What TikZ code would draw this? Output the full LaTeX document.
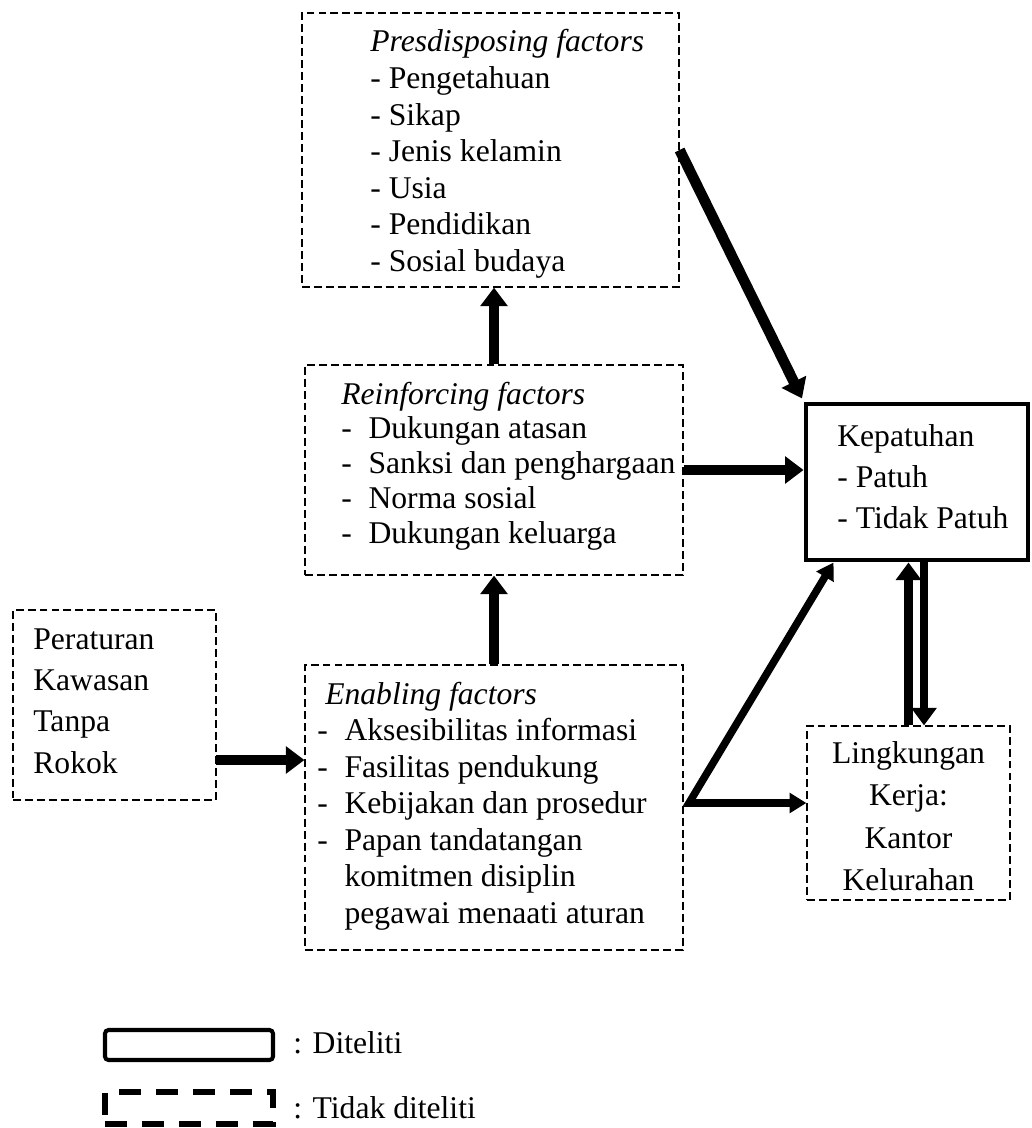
\documentclass[tikz,border=0pt]{standalone}
\usepackage{fontspec}
\setmainfont{Liberation Serif}
\usetikzlibrary{arrows.meta,fit,positioning}
\tikzset{dashbox/.style={draw, line width=0.7pt, dash pattern=on 4.5pt off 2.3pt, inner sep=0pt},
solidbox/.style={draw, line width=2.8pt, inner sep=0pt},
txt/.style={inner sep=0pt, font=\fontsize{18}{20.8}\selectfont},
%thick arrows between the boxes
bigarrow/.style={line width=6pt, -{Triangle[length=10.5pt,width=15pt]}},
splitarrow/.style={line width=4.3pt, line join=miter, {Triangle[length=9.5pt,width=11pt]}-{Triangle[length=9.5pt,width=11pt]}},
pairarrow/.style={line width=5pt, -{Triangle[length=10pt,width=14pt]}}}
\newcommand{\fitem}[1]{\makebox[15.5pt][l]{-}#1}
\newcommand{\fcont}[1]{\hspace*{15.5pt}#1}

\begin{document}
\begin{tikzpicture}[x=0.02cm, y=-0.02cm]
\useasboundingbox (0,0) rectangle (1031,1128);

\node[dashbox, fit={(302,13) (679,287)}] (pres) {};
\node[dashbox, fit={(305,365) (683,575)}] (reinf) {};
\node[dashbox, fit={(305,665) (683,950)}] (enab) {};
\node[dashbox, fit={(13,610) (216,800)}] (per) {};
\node[solidbox, fit={(806,404) (1028,560)}] (kep) {};
\node[dashbox, fit={(807,726) (1010,900)}] (ling) {};

\node[txt, anchor=base west] (presTxt) at (370,52) {\begin{tabular}[t]{@{}l@{}}
\textit{Presdisposing factors}\\- Pengetahuan\\- Sikap\\- Jenis kelamin\\- Usia\\- Pendidikan\\- Sosial budaya
\end{tabular}};
\node[txt, font=\fontsize{18}{19.9}\selectfont, anchor=base west] (reinfTxt) at (341,404) {\begin{tabular}[t]{@{}l@{}}
\textit{Reinforcing factors}\\\fitem{Dukungan atasan}\\\fitem{Sanksi dan penghargaan}\\\fitem{Norma sosial}\\\fitem{Dukungan keluarga}
\end{tabular}};
\node[txt, anchor=base west] (enabTxt) at (317,704) {\begin{tabular}[t]{@{}l@{}}
\hspace*{4.5pt}\textit{Enabling factors}\\\fitem{Aksesibilitas informasi}\\\fitem{Fasilitas pendukung}\\\fitem{Kebijakan dan prosedur}\\\fitem{Papan tandatangan}\\\fcont{komitmen disiplin}\\\fcont{pegawai menaati aturan}
\end{tabular}};
\node[txt, font=\fontsize{18}{23.6}\selectfont, anchor=base west] (perTxt) at (33,649) {\begin{tabular}[t]{@{}l@{}}
Peraturan\\Kawasan\\Tanpa\\Rokok
\end{tabular}};
\node[txt, font=\fontsize{18}{23.5}\selectfont, anchor=base west] (kepTxt) at (837,446) {\begin{tabular}[t]{@{}l@{}}
Kepatuhan\\- Patuh\\- Tidak Patuh
\end{tabular}};
\node[txt, font=\fontsize{18}{24.2}\selectfont, anchor=base] (lingTxt) at (908.5,763) {\begin{tabular}[t]{@{}c@{}}
Lingkungan\\Kerja:\\Kantor\\Kelurahan
\end{tabular}};

\draw[bigarrow, shorten >=2pt] (pres.east) -- (kep.north west);
\draw[bigarrow] (reinf.east) -- (reinf.east -| kep.west);
\draw[bigarrow] (reinf.north) -- (reinf.north |- pres.south);
\draw[bigarrow] (enab.north) -- (enab.north |- reinf.south);
\coordinate (perOut) at (216,760);
\draw[bigarrow] (perOut) -- (perOut -| enab.west);
\coordinate (split) at (689,803);
\draw[splitarrow] ([xshift=0.6cm]kep.south west) -- (split) -- (split -| ling.west);
\draw[pairarrow] (ling.north) -- (ling.north |- kep.south);
\coordinate (kepDown) at ([xshift=0.14cm]kep.south);
\draw[pairarrow] (kepDown) -- (kepDown |- ling.north);

% legend
\node[solidbox, line width=2.3pt, rounded corners=2pt, fit={(105,1030) (273,1060)}] (legA) {};
\node[dashbox, line width=3.4pt, dash pattern=on 12.5pt off 8.5pt, fit={(105,1092) (273,1124)}] (legB) {};
\node[txt, anchor=base west] (legAtxt) at (293,1053) {: Diteliti};
\node[txt, anchor=base west] (legBtxt) at (293,1118) {: Tidak diteliti};

\end{tikzpicture}
\end{document}
